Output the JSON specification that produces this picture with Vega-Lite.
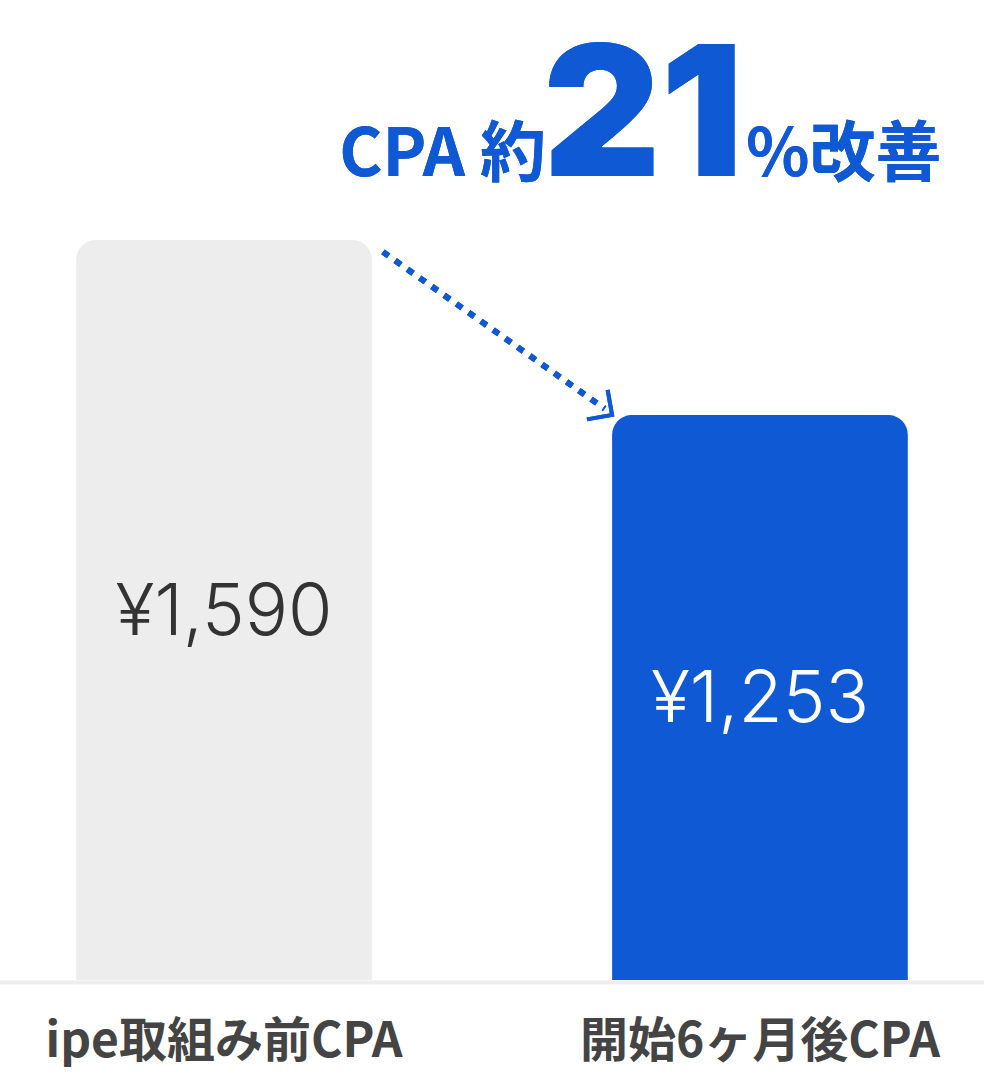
{
  "$schema": "https://vega.github.io/schema/vega-lite/v6.json",
  "width": 984,
  "height": 980,
  "autosize": {"type": "none"},
  "padding": {"left": 0, "right": 0, "top": 0, "bottom": 108},
  "background": "#ffffff",
  "config": {
    "view": {"stroke": null},
    "locale": {"number": {"decimal": ".", "thousands": ",", "grouping": [3], "currency": ["¥", ""]}}
  },
  "data": {
    "values": [
      {"period": "ipe取組み前CPA", "cpa": 1590},
      {"period": "開始6ヶ月後CPA", "cpa": 1253}
    ]
  },
  "layer": [
    {
      "layer": [
        {
          "mark": {"type": "bar", "cornerRadiusTopLeft": 20, "cornerRadiusTopRight": 20},
          "encoding": {
            "x": {
              "field": "period", "type": "nominal", "sort": null,
              "scale": {"paddingInner": 0.448, "paddingOuter": 0.142},
              "axis": {
                "title": null, "labelAngle": 0, "ticks": false, "tickSize": 0, "labelLimit": 0,
                "labelFont": "Noto Sans CJK JP", "labelFontWeight": "bold", "labelFontSize": 48,
                "labelColor": "#444444", "labelPadding": 36,
                "domainColor": "#EDEDED", "domainWidth": 4, "domainCap": "round", "offset": 2
              }
            },
            "y": {"field": "cpa", "type": "quantitative", "scale": {"domain": [165, 2052], "nice": false, "clamp": true}, "axis": null},
            "color": {"field": "period", "type": "nominal", "sort": null, "scale": {"range": ["#EDEDED", "#0F59D5"]}, "legend": null}
          }
        },
        {
          "mark": {"type": "rule", "color": "#0F59D5", "strokeWidth": 6, "strokeDash": [7, 8]},
          "encoding": {
            "x": {"datum": "ipe取組み前CPA", "bandPosition": 1.037},
            "x2": {"datum": "開始6ヶ月後CPA", "bandPosition": -0.025},
            "y": {"datum": 1567, "scale": {"domain": [165, 2052], "nice": false, "clamp": true}},
            "y2": {"datum": 1265}
          }
        },
        {
          "mark": {"type": "point", "shape": "M-1,-1L0,0L-1,1", "filled": false, "stroke": "#0F59D5", "strokeWidth": 4, "size": 1300, "angle": 35, "opacity": 1},
          "encoding": {
            "x": {"datum": "開始6ヶ月後CPA", "bandPosition": 0},
            "y": {"datum": 1253, "scale": {"domain": [165, 2052], "nice": false, "clamp": true}}
          }
        },
        {
          "mark": {"type": "text", "text": "CPA 約", "font": "Noto Sans CJK JP", "fontWeight": "bold", "fontSize": 66, "color": "#0F59D5", "align": "right", "baseline": "alphabetic", "dx": -66},
          "encoding": {
            "x": {"datum": "開始6ヶ月後CPA", "bandPosition": 0},
            "y": {"datum": 1713, "scale": {"domain": [165, 2052], "nice": false, "clamp": true}}
          }
        },
        {
          "mark": {"type": "text", "text": "21", "font": "Inter", "fontWeight": 900, "fontSize": 182, "color": "#0F59D5", "align": "center", "baseline": "alphabetic", "dx": 31},
          "encoding": {
            "x": {"datum": "開始6ヶ月後CPA", "bandPosition": 0},
            "y": {"datum": 1713, "scale": {"domain": [165, 2052], "nice": false, "clamp": true}}
          }
        },
        {
          "mark": {"type": "text", "text": "%改善", "font": "Noto Sans CJK JP", "fontWeight": "bold", "fontSize": 66, "color": "#0F59D5", "align": "left", "baseline": "alphabetic", "dx": 134},
          "encoding": {
            "x": {"datum": "開始6ヶ月後CPA", "bandPosition": 0},
            "y": {"datum": 1713, "scale": {"domain": [165, 2052], "nice": false, "clamp": true}}
          }
        }
      ]
    },
    {
      "mark": {"type": "text", "font": "Inter", "fontWeight": 300, "fontSize": 72, "baseline": "middle", "dy": 3},
      "encoding": {
        "x": {"field": "period", "type": "nominal", "sort": null},
        "y": {"field": "cpa", "type": "quantitative", "scale": {"domain": [165, 3939], "nice": false}, "axis": null},
        "text": {"field": "cpa", "type": "quantitative", "format": "$,d"},
        "color": {"field": "period", "type": "nominal", "sort": null, "scale": {"range": ["#333333", "#FFFFFF"]}, "legend": null}
      }
    }
  ],
  "resolve": {"scale": {"y": "independent", "color": "independent"}}
}
